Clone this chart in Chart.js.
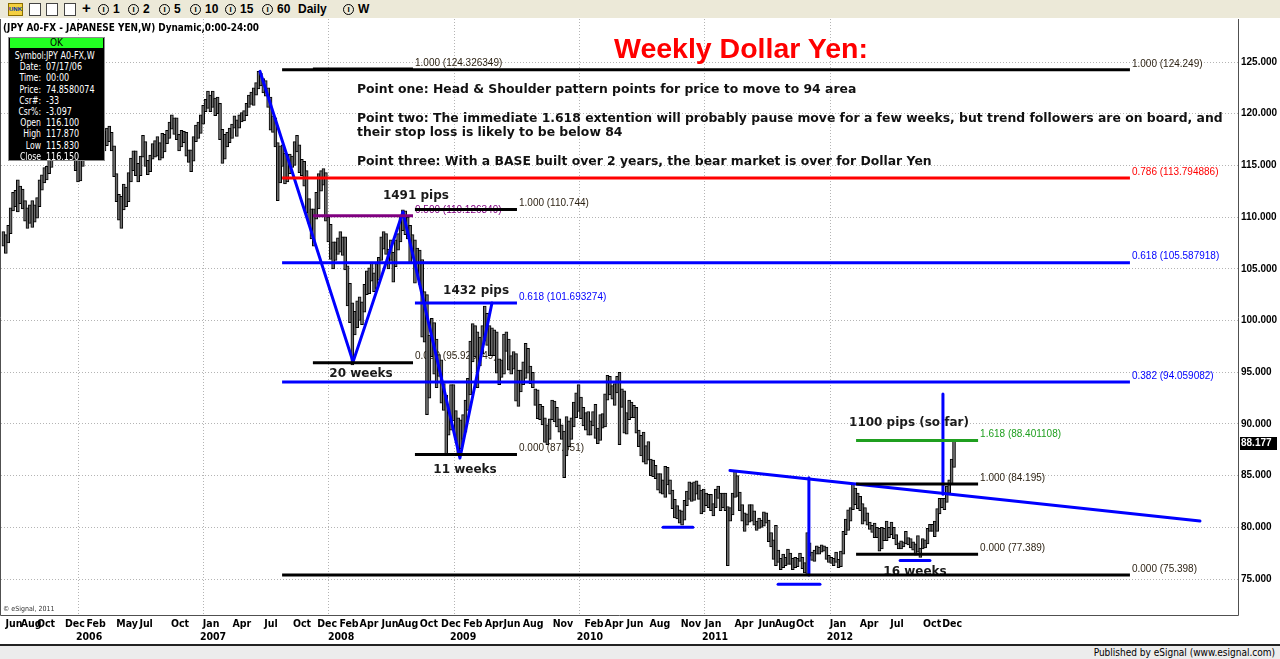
<!DOCTYPE html>
<html>
<head>
<meta charset="utf-8">
<title>Weekly Dollar Yen</title>
<script src="https://cdn.jsdelivr.net/npm/chart.js@4.4.1/dist/chart.umd.min.js"></script>
<style>
  html, body { margin: 0; padding: 0; background: #fff; }
  #wrap { position: relative; width: 1280px; height: 659px; overflow: hidden; }
  #chart { position: absolute; left: 0; top: 0; }
  .abs { position: absolute; white-space: nowrap; }
  .narrow { font-family: 'Liberation Sans Narrow', 'DejaVu Sans Condensed', sans-serif; }
  #toolbar { left: 0; top: 0; width: 1280px; height: 18px; background: #ece9d8; }
  .tb { position: absolute; top: 2px; font: bold 12px/14px 'Liberation Sans', Arial, sans-serif; color: #000; }
  .ci { display: inline-block; width: 9px; height: 9px; border: 1px solid #000; border-radius: 50%; font: bold 8px/9px 'Liberation Sans', Arial; text-align: center; vertical-align: 1px; margin-right: 4px; }
  .ico { position: absolute; top: 3px; width: 10px; height: 11px; border: 1px solid #444; background: #fff; }
  #symrow { left: 3px; top: 21px; font-weight: bold; font-size: 11px; color: #000; transform: scaleX(0.9); transform-origin: left center; }
  #title { left: 614px; top: 34px; font: bold 28.5px/28px 'Liberation Sans', Arial, sans-serif; color: #ff0000; }
  .pt { left: 357px; font: bold 12.4px/14px 'DejaVu Sans', sans-serif; color: #111; }
  #info { left: 8px; top: 37px; width: 95px; height: 122px; background: #000; border: 1px solid #8a8a8a; }
  #ok { position: absolute; left: 1px; top: 0px; width: 93px; height: 10px; background: #22ff22; color: #000; font-size: 10px; line-height: 10px; text-align: center; }
  .il { position: absolute; width: 32px; text-align: right; color: #fff; font-size: 10.5px; line-height: 12px; transform: scaleX(0.82); transform-origin: right center; }
  .iv { position: absolute; left: 37px; color: #fff; font-size: 10.5px; line-height: 12px; transform: scaleX(0.85); transform-origin: left center; }
  #copy { left: 3px; top: 605px; font-size: 7px; color: #333; }
  #status { left: 0; top: 644px; width: 1280px; height: 13px; background: #ececec; border-top: 2px solid #222; }
  #pub { right: 5px; top: 1px; font-size: 10px; line-height: 12px; color: #000; }
</style>
</head>
<body>
<div id="wrap">
  <canvas id="chart" width="1280" height="659"></canvas>

  <div id="toolbar" class="abs">
    <div class="ico" style="left:8px;background:#f4d03f;border-color:#8a6d00;font:bold 6px/11px Arial;color:#0033aa;width:13px;text-align:center">UNK</div>
    <div class="ico" style="left:29px"></div>
    <div class="ico" style="left:46px"></div>
    <div class="ico" style="left:64px"></div>
    <span class="tb" style="left:82px;font-size:15px;top:1px">+</span>
    <span class="tb narrow" style="left:98px"><span class="ci">I</span>1</span>
    <span class="tb narrow" style="left:128px"><span class="ci">I</span>2</span>
    <span class="tb narrow" style="left:159px"><span class="ci">I</span>5</span>
    <span class="tb narrow" style="left:190px"><span class="ci">I</span>10</span>
    <span class="tb narrow" style="left:225px"><span class="ci">I</span>15</span>
    <span class="tb narrow" style="left:262px"><span class="ci">I</span>60</span>
    <span class="tb narrow" style="left:298px">Daily</span>
    <span class="tb narrow" style="left:343px"><span class="ci">I</span>W</span>
  </div>

  <div id="symrow" class="abs narrow">(JPY A0-FX - JAPANESE YEN,W) Dynamic,0:00-24:00</div>

  <div id="title" class="abs">Weekly Dollar Yen:</div>
  <div class="abs pt" style="top:82px">Point one: Head &amp; Shoulder pattern points for price to move to 94 area</div>
  <div class="abs pt" style="top:111px">Point two: The immediate 1.618 extention will probably pause move for a few weeks, but trend followers are on board, and</div>
  <div class="abs pt" style="top:125px">their stop loss is likely to be below 84</div>
  <div class="abs pt" style="top:154px">Point three: With a BASE built over 2 years, the bear market is over for Dollar Yen</div>

  <div id="info" class="abs narrow"><div id="ok">OK</div></div>

  <div id="copy" class="abs narrow">© eSignal, 2011</div>
  <div id="status" class="abs"><span id="pub" class="abs narrow">Published by eSignal (www.esignal.com)</span></div>
</div>

<script>
// weekly USD/JPY bars, week 0 = Jun 6 2005 ... week 395 = Dec 31 2012
const weekHigh = [
  // 2005
  108.6,108.3,109.2,110.9,112.4,112.6,113.6,113.0,112.7,111.6,110.9,111.2,111.6,111.2,111.9,
  113.6,114.1,114.8,114.9,115.8,116.4,117.3,118.8,119.3,119.8,120.9,121.4,120.5,118.2,118.5,
  // 2006
  118.0,115.6,116.0,117.5,118.0,118.8,119.3,118.6,117.4,118.4,118.9,117.9,118.3,118.6,118.8,118.2,
  116.9,114.2,112.2,112.0,113.2,112.9,114.3,115.7,116.4,116.4,115.2,115.9,117.9,117.3,115.5,116.0,
  117.1,117.4,117.8,117.2,118.1,118.0,118.4,119.2,119.9,119.6,119.6,118.0,118.4,118.3,118.2,116.5,
  116.5,117.8,118.9,119.2,
  // 2007
  119.9,120.8,121.4,122.2,121.8,122.2,121.5,121.6,121.0,118.5,118.0,118.2,118.6,119.0,119.8,119.4,
  119.9,120.1,120.3,121.0,121.8,122.1,122.5,123.0,124.1,123.9,123.4,123.2,122.5,121.6,119.8,119.6,
  117.2,116.9,117.0,116.2,115.9,116.1,115.9,117.3,117.9,117.0,115.6,115.4,114.5,111.8,110.8,110.8,
  112.4,114.2,114.5,114.7,114.3,
  // 2008
  110.0,109.3,107.6,107.6,108.0,108.6,108.1,108.1,105.3,103.6,101.7,100.9,101.9,102.3,101.8,103.5,
  104.8,105.1,105.6,104.6,105.5,106.1,108.1,108.6,108.4,106.9,107.8,106.6,107.8,108.4,110.1,110.7,
  110.6,110.0,109.2,108.3,107.8,107.0,106.8,105.9,102.8,102.5,98.6,100.2,99.8,98.2,96.7,96.2,
  93.9,92.8,91.1,93.8,
  // 2009
  93.8,91.3,90.6,90.4,90.9,92.3,94.4,98.0,99.7,99.5,98.9,98.4,99.5,101.4,100.7,99.5,
  99.3,99.1,98.9,96.3,96.2,98.7,98.9,98.2,96.6,97.0,96.8,95.2,95.2,96.0,97.8,97.3,
  95.6,95.0,93.4,93.3,91.9,91.7,90.6,89.9,90.5,92.3,92.2,91.6,90.5,89.9,89.3,90.7,
  90.3,90.6,92.1,93.0,
  // 2010
  93.8,92.6,91.6,91.1,91.2,90.3,91.2,91.9,89.6,90.9,91.0,92.9,94.7,94.6,93.7,93.9,
  94.6,95.0,93.4,93.2,91.1,92.3,92.1,91.8,91.6,89.4,88.9,89.2,87.9,88.3,86.6,86.5,
  86.0,85.2,85.2,84.6,85.9,85.8,84.6,83.6,82.7,82.1,81.7,81.6,82.6,83.5,84.4,84.3,
  84.4,84.5,84.1,83.6,
  // 2011
  83.7,83.3,83.2,83.2,82.3,83.7,84.0,83.3,83.3,83.3,82.0,81.9,83.3,85.5,85.0,83.4,
  82.2,81.4,81.3,82.2,82.2,81.6,80.6,80.9,80.7,81.5,81.4,80.7,79.5,78.8,80.2,77.8,
  77.0,77.4,77.1,77.9,77.5,77.0,77.1,77.0,77.5,77.1,76.6,79.5,78.5,77.6,77.8,78.2,
  78.1,78.3,78.2,78.1,
  // 2012
  77.3,77.1,77.0,77.6,76.9,77.7,79.6,80.8,81.7,81.9,84.2,83.8,83.3,83.0,82.3,81.9,
  81.4,80.5,80.2,80.4,80.0,79.9,80.0,79.9,80.6,80.0,80.5,80.0,79.3,78.5,78.7,78.6,
  79.6,79.0,78.9,78.6,78.4,79.2,78.0,78.9,78.8,79.9,80.3,80.3,80.6,81.8,82.8,82.8,
  82.8,84.0,84.6,86.6,88.4
];
const weekLow = [
  // 2005
  107.2,106.5,107.5,108.4,110.6,111.0,110.5,111.3,110.8,109.6,108.9,109.4,109.0,109.5,109.9,
  111.0,112.6,113.3,113.6,114.2,114.8,116.0,116.9,117.8,118.2,118.8,119.8,116.0,115.8,116.7,
  // 2006
  114.5,113.4,113.5,114.9,116.5,116.8,117.2,116.8,115.5,116.6,116.6,116.0,116.4,116.9,117.3,116.4,
  113.9,111.5,109.7,108.9,110.7,111.0,111.5,113.4,114.5,114.0,113.4,114.0,115.8,114.9,114.1,114.4,
  115.6,115.8,115.9,115.5,115.7,116.3,117.1,117.6,118.5,118.0,117.5,116.4,116.8,117.2,115.9,115.3,
  114.4,115.4,117.3,117.6,
  // 2007
  118.1,119.0,120.2,120.5,120.2,120.6,119.8,120.0,117.5,115.2,115.6,116.8,117.2,117.6,118.6,117.8,
  118.6,119.2,119.3,119.8,120.6,120.9,120.8,121.8,122.4,122.7,122.0,121.7,120.6,118.4,118.2,116.8,
  111.6,113.3,114.9,113.2,113.4,114.2,114.8,115.0,116.3,114.3,114.0,113.0,110.4,109.4,107.9,107.2,
  109.8,110.8,112.5,113.1,109.6,
  // 2008
  107.6,105.9,105.0,105.8,106.4,106.6,106.3,104.9,101.4,99.8,95.7,98.6,99.3,100.0,99.6,100.8,
  102.5,102.6,103.8,102.8,103.1,103.9,105.8,106.9,106.4,105.0,105.8,103.7,105.2,106.8,107.6,108.7,
  108.3,107.9,105.6,106.4,103.6,104.8,103.5,98.4,97.9,90.9,92.5,96.5,94.8,93.5,94.6,92.0,
  91.3,87.1,88.9,89.4,
  // 2009
  90.3,88.5,87.1,87.6,88.5,89.2,91.3,92.8,96.0,96.5,93.5,95.6,96.8,98.0,97.6,96.6,
  96.6,96.6,94.9,93.8,94.5,94.8,97.0,95.2,94.8,95.3,92.2,91.7,93.1,93.8,94.4,94.9,
  93.9,93.5,91.8,90.5,90.4,89.9,88.2,88.0,88.5,90.4,90.2,89.7,89.2,88.5,84.8,86.9,
  87.8,88.5,89.7,90.6,
  // 2010
  91.2,90.5,89.8,89.4,88.9,88.9,89.8,88.6,88.1,88.4,89.6,89.7,92.3,92.8,92.4,91.8,
  93.0,88.0,91.6,89.1,89.0,90.4,90.6,90.6,89.1,87.8,86.9,86.3,86.1,86.5,85.0,84.9,
  84.7,83.6,83.3,83.2,82.9,84.1,83.2,81.8,80.9,80.8,80.4,80.2,80.7,82.1,82.7,82.5,
  82.6,83.2,82.7,81.3,
  // 2011
  81.5,82.1,81.9,81.6,81.1,81.9,82.8,81.6,81.9,81.6,76.3,80.6,81.2,82.9,83.0,81.6,
  80.6,79.6,80.2,80.5,80.6,80.2,79.7,79.9,80.0,80.1,80.4,78.6,78.1,76.9,76.3,76.6,
  75.9,76.1,76.3,76.4,76.4,75.9,76.1,76.2,76.7,76.0,75.6,75.4,77.2,76.8,76.7,77.4,
  77.4,77.6,77.7,76.9,
  // 2012
  76.6,76.5,76.3,76.6,76.1,76.2,77.4,79.3,79.7,80.6,81.7,82.2,81.8,81.6,80.3,80.6,
  80.2,79.8,79.5,79.0,79.0,77.7,77.9,78.7,78.7,79.0,79.3,78.9,78.3,77.9,77.9,78.1,
  78.4,78.3,78.0,77.8,77.3,77.6,77.1,77.9,78.0,78.4,79.6,79.6,79.1,79.6,81.3,81.9,
  81.7,82.4,83.3,84.2,85.8
];
const lastPrice = 88.177;

// axis
const priceTicks = [75, 80, 85, 90, 95, 100, 105, 110, 115, 120, 125];
const monthWeek = [4.4, 11.5, 17.7, 29.7, 38.5, 51.4, 59.3, 73.4, 86.3, 99.1, 111.2, 124.1, 134.5,
  143.6, 151.9, 160.6, 168.1, 176.8, 186.0, 195.1, 203.9, 211.3, 220.1, 232.5, 245.4, 253.7, 262.4,
  272.8, 285.7, 294.9, 307.7, 317.3, 324.8, 333.1, 346.8, 359.7, 371.3, 385.9, 394.2];
const monthName = ['Jun','Aug','Oct','Dec','Feb','May','Jul','Oct','Jan','Apr','Jul','Oct','Dec',
  'Feb','Apr','Jun','Aug','Oct','Dec','Feb','Apr','Jun','Aug','Nov','Feb','Apr','Jun',
  'Aug','Nov','Jan','Apr','Jun','Aug','Oct','Jan','Apr','Jul','Oct','Dec'];
const yearWeek = [35.6, 87.1, 140.3, 191.0, 243.7, 295.7, 347.6];
const yearName = ['2006', '2007', '2008', '2009', '2010', '2011', '2012'];
const yearGridWeek = [31.0, 83.1, 135.2, 187.3, 239.4, 291.5, 343.6];

// fibonacci tools: [fromWeek, toWeek] and [ratio, price]
const fibSpanA = [128.6, 170.2];
const fibA = [['1.000', 124.326349], ['0.500', 110.126349], ['0.000', 95.925349]];
const fibSpanB = [115.8, 468.1];
const fibB = [['1.000', 124.249], ['0.786', 113.794886], ['0.618', 105.587918], ['0.382', 94.059082], ['0.000', 75.398]];
const fibSpanC = [171.0, 213.4];
const fibC = [['1.000', 110.744], ['0.618', 101.693274], ['0.000', 87.051]];
const fibSpanD = [354.3, 405.0];
const fibD = [['1.618', 88.401108], ['1.000', 84.195], ['0.000', 77.389]];

// hand drawn blue lines: [week, price]
const swingPath = [[106.6, 124.1], [145.3, 96.0], [166.0, 110.5], [189.7, 86.7], [203.0, 101.7]];
const trendLine = [[301.9, 85.5], [497.2, 80.6]];
const depthLine1 = [[334.7, 84.8], [334.7, 75.4]];
const depthLine2 = [[390.4, 92.9], [390.4, 83.2]];
const lowMark1 = [[274.1, 80.0], [286.5, 80.0]];
const lowMark2 = [[321.9, 74.5], [339.3, 74.5]];
const lowMark3 = [[372.6, 76.8], [385.0, 76.8]];

// bold notes: text and [week, price] centre
const noteText = ['1491 pips', '1432 pips', '20 weeks', '11 weeks', '1100 pips (so far)', '16 weeks'];
const noteAt = [[171.4, 112.04], [196.4, 102.85], [148.6, 94.83], [191.8, 85.54], [376.3, 90.09], [378.8, 75.68]];

// info box
const infoLabel = ['Symbol:', 'Date:', 'Time:', 'Price:', 'Csr#:', 'Csr%:', 'Open', 'High', 'Low', 'Close'];
const infoValue = ['JPY A0-FX,W', '07/17/06', '00:00', '74.8580074', '-33', '-3.097', '116.100', '117.870', '115.830', '116.150'];

// ---- styles ----
const fibColor = { '1.000': '#000000', '0.786': '#ff0000', '0.618': '#0000ff', '0.382': '#0000ff',
  '0.500': '#800080', '0.000': '#000000', '1.618': '#1f9f1f' };
const fibTextColor = { '1.000': '#2a1f10', '0.786': '#ff0000', '0.618': '#0000ff', '0.382': '#0000ff',
  '0.500': '#800080', '0.000': '#2a1f10', '1.618': '#1f9f1f' };
const NARROW = "'Liberation Sans Narrow', 'DejaVu Sans Condensed', sans-serif";

// info box rows
const info = document.getElementById('info');
infoLabel.forEach((l, k) => {
  const top = 11 + k * 11.2;
  const a = document.createElement('div');
  a.className = 'il'; a.style.left = '0px'; a.style.top = top + 'px'; a.textContent = l;
  const b = document.createElement('div');
  b.className = 'iv'; b.style.top = top + 'px'; b.textContent = infoValue[k];
  info.appendChild(a); info.appendChild(b);
});

// datasets
const fibTools = [[fibSpanA, fibA], [fibSpanB, fibB], [fibSpanC, fibC], [fibSpanD, fibD]];
const lineSets = [];
fibTools.forEach(([span, levels]) => {
  levels.forEach(([r, p]) => {
    lineSets.push({
      type: 'line',
      data: [{ x: span[0], y: p }, { x: span[1], y: p }],
      borderColor: fibColor[r], borderWidth: 3, pointRadius: 0, order: 1
    });
  });
});
[swingPath, trendLine, depthLine1, depthLine2, lowMark1, lowMark2, lowMark3].forEach(path => {
  lineSets.push({
    type: 'line',
    data: path.map(([w, p]) => ({ x: w, y: p })),
    borderColor: '#0000ff', borderWidth: 3, pointRadius: 0, order: 1,
    borderCapStyle: 'round', borderJoinStyle: 'round'
  });
});

function xTicks() {
  const t = [];
  monthWeek.forEach((w, k) => t.push({ value: w, lbl: monthName[k] }));
  yearWeek.forEach((w, k) => t.push({ value: w, lbl: ['', yearName[k]] }));
  yearGridWeek.forEach(w => t.push({ value: w, lbl: '', g: true }));
  return t;
}

const overlay = {
  id: 'overlay',
  beforeDatasetsDraw(chart) {
    const { ctx, scales: { x, y } } = chart;
    ctx.save();
    ctx.font = "10px 'Liberation Sans', Arial, sans-serif";
    ctx.textBaseline = 'middle';
    ctx.textAlign = 'left';
    fibTools.forEach(([span, levels]) => {
      levels.forEach(([r, p]) => {
        ctx.fillStyle = fibTextColor[r];
        ctx.fillText(r + ' (' + p + ')', x.getPixelForValue(span[1]) + 2, y.getPixelForValue(p) - 6);
      });
    });
    ctx.font = "bold 12px 'DejaVu Sans', sans-serif";
    ctx.fillStyle = '#1a1a1a';
    ctx.textAlign = 'center';
    noteText.forEach((t, k) => {
      ctx.fillText(t, x.getPixelForValue(noteAt[k][0]), y.getPixelForValue(noteAt[k][1]));
    });
    ctx.restore();
  },
  afterDatasetsDraw(chart) {
    const { ctx, chartArea: a, scales: { y } } = chart;
    ctx.save();
    ctx.strokeStyle = '#505050';
    ctx.lineWidth = 1;
    ctx.beginPath();
    ctx.moveTo(a.left - 0.5, a.top); ctx.lineTo(a.left - 0.5, a.bottom + 0.5);
    ctx.lineTo(a.right + 0.5, a.bottom + 0.5); ctx.lineTo(a.right + 0.5, a.top);
    ctx.stroke();
    // last price box on the axis
    const py = Math.round(y.getPixelForValue(lastPrice));
    ctx.fillStyle = '#000';
    ctx.fillRect(a.right + 2, py - 6, 37, 13);
    ctx.fillStyle = '#fff';
    ctx.font = "bold 10px 'Liberation Sans', Arial, sans-serif";
    ctx.textBaseline = 'middle';
    ctx.fillText(lastPrice.toFixed(3), a.right + 3, py + 0.5);
    ctx.restore();
  }
};

new Chart(document.getElementById('chart'), {
  type: 'bar',
  data: {
    datasets: [
      {
        type: 'bar',
        data: weekHigh.map((h, i) => ({ x: i, y: [weekLow[i], h] })),
        backgroundColor: '#6e6e6e',
        borderColor: '#000000',
        borderWidth: 1,
        borderSkipped: false,
        barThickness: 3,
        order: 2
      },
      ...lineSets
    ]
  },
  options: {
    responsive: false,
    animation: false,
    devicePixelRatio: 1,
    layout: { padding: { top: 19, left: 1, right: 0, bottom: 14 } },
    plugins: { legend: { display: false }, tooltip: { enabled: false } },
    scales: {
      x: {
        type: 'linear', min: -1, max: 513, offset: false,
        afterBuildTicks: s => { s.ticks = xTicks(); },
        afterFit: s => { s.height = 30; },
        ticks: {
          autoSkip: false, maxRotation: 0, padding: 3, color: '#000',
          font: { family: NARROW, size: 10.5, weight: 'bold', lineHeight: 1.25 },
          callback: (v, i, t) => t[i].lbl
        },
        grid: {
          offset: false, drawTicks: false,
          color: c => (c.tick && c.tick.g) ? '#b4b4b4' : 'rgba(0,0,0,0)'
        },
        border: { display: false, dash: [1, 2] }
      },
      y: {
        position: 'right', min: 71.52, max: 129.16,
        afterBuildTicks: s => { s.ticks = priceTicks.map(v => ({ value: v })); },
        afterFit: s => { s.width = 42; },
        ticks: {
          padding: 3, color: '#000',
          font: { family: "'Liberation Sans', Arial, sans-serif", size: 10, weight: 'bold' },
          callback: v => v.toFixed(3)
        },
        grid: { drawTicks: false, color: '#b4b4b4' },
        border: { display: false, dash: [1, 2] }
      }
    }
  },
  plugins: [overlay]
});
</script>
</body>
</html>
